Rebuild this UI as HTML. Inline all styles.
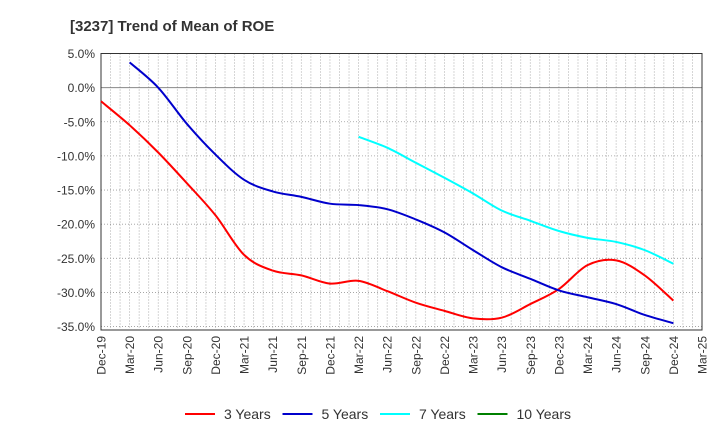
<!DOCTYPE html>
<html><head><meta charset="utf-8"><style>
body{margin:0;background:#fff;font-family:"Liberation Sans",Arial,sans-serif;}
svg text{font-family:"Liberation Sans",Arial,sans-serif;}
</style></head><body>
<svg id="chart" width="720" height="440" xmlns="http://www.w3.org/2000/svg">
<text x="70" y="31" font-size="15" font-weight="bold" fill="#333">[3237]  Trend of Mean of ROE</text>
<g id="grid"></g><g id="axes"></g><g id="series"></g><g id="legend"></g>
</svg>
<script>
const xLabels=["Dec-19","Mar-20","Jun-20","Sep-20","Dec-20","Mar-21","Jun-21","Sep-21","Dec-21","Mar-22","Jun-22","Sep-22","Dec-22","Mar-23","Jun-23","Sep-23","Dec-23","Mar-24","Jun-24","Sep-24","Dec-24","Mar-25"];
const yTicks=[5,0,-5,-10,-15,-20,-25,-30,-35];
const s3=[-2,-5.5,-9.5,-14,-18.7,-24.5,-26.8,-27.5,-28.7,-28.3,-29.8,-31.5,-32.7,-33.8,-33.7,-31.7,-29.5,-26,-25.3,-27.5,-31.2];
const s5=[null,3.7,0,-5.3,-9.8,-13.5,-15.2,-16,-17,-17.2,-17.8,-19.3,-21.2,-23.8,-26.3,-28,-29.7,-30.7,-31.7,-33.3,-34.5];
const s7=[null,null,null,null,null,null,null,null,null,-7.2,-8.8,-11,-13.2,-15.5,-18,-19.5,-21,-22,-22.6,-23.8,-25.8];
const s10=[];
const NS="http://www.w3.org/2000/svg";
const L=101,R=702,T=53.5,B=330,yMax=5,yMin=-35.5;
const X=i=>L+(R-L)*i/(xLabels.length-1);
const Y=v=>T+(yMax-v)/(yMax-yMin)*(B-T);
function mk(tag,attrs,parent){const e=document.createElementNS(NS,tag);for(const k in attrs)e.setAttribute(k,attrs[k]);parent.appendChild(e);return e;}
const grid=document.getElementById('grid'),axes=document.getElementById('axes'),ser=document.getElementById('series'),leg=document.getElementById('legend');
for(let m=1;m<(xLabels.length-1)*3;m++){const x=L+(R-L)*m/((xLabels.length-1)*3);
const g=mk('line',{x1:x,x2:x,y1:T,y2:B,stroke:'#999','stroke-width':0.8,'stroke-dasharray':'1,2'},grid);

}
yTicks.forEach(v=>{const y=Y(v);
const g=mk('line',{x1:L,x2:R,y1:y,y2:y,stroke:v===0?'#888':'#999','stroke-width':v===0?1:0.8,'stroke-dasharray':v===0?'':'1,2'},grid);


const t=mk('text',{x:L-6,y:y+4.5,'text-anchor':'end','font-size':12,fill:'#333'},axes);t.textContent=v.toFixed(1)+'%';

});
const fr=mk('rect',{x:L,y:T,width:R-L,height:B-T,fill:'none',stroke:'#333','stroke-width':1},axes);


xLabels.forEach((lab,i)=>{const x=X(i);
const t=mk('text',{transform:`translate(${x+4.5},${B+6}) rotate(-90)`,'text-anchor':'end','font-size':12,fill:'#333'},axes);t.textContent=lab;

});
function path(data){const p=[];data.forEach((v,i)=>{if(v!=null)p.push([X(i),Y(v)]);});if(p.length<2)return '';
let d=`M${p[0][0]},${p[0][1]}`;for(let i=0;i<p.length-1;i++){const p0=p[i-1]||p[i],p1=p[i],p2=p[i+1],p3=p[i+2]||p[i+1];
d+=` C${p1[0]+(p2[0]-p0[0])/6},${p1[1]+(p2[1]-p0[1])/6} ${p2[0]-(p3[0]-p1[0])/6},${p2[1]-(p3[1]-p1[1])/6} ${p2[0]},${p2[1]}`;}return d;}
const series=[[s3,'#ff0000','3 Years','line-3-years'],[s5,'#0000cc','5 Years','line-5-years'],[s7,'#00ffff','7 Years','line-7-years'],[s10,'#008000','10 Years','line-10-years']];
series.forEach(([d,c,n,nm],k)=>{const pd=path(d);if(pd){const e=mk('path',{d:pd,fill:'none',stroke:c,'stroke-width':2},ser);

}
const lx=185+k*97.5;
const ln=mk('line',{x1:lx,x2:lx+30,y1:414,y2:414,stroke:c,'stroke-width':2},leg);


const t=mk('text',{x:lx+39,y:419,'font-size':14,fill:'#333'},leg);t.textContent=n;

});
</script>
</body></html>
